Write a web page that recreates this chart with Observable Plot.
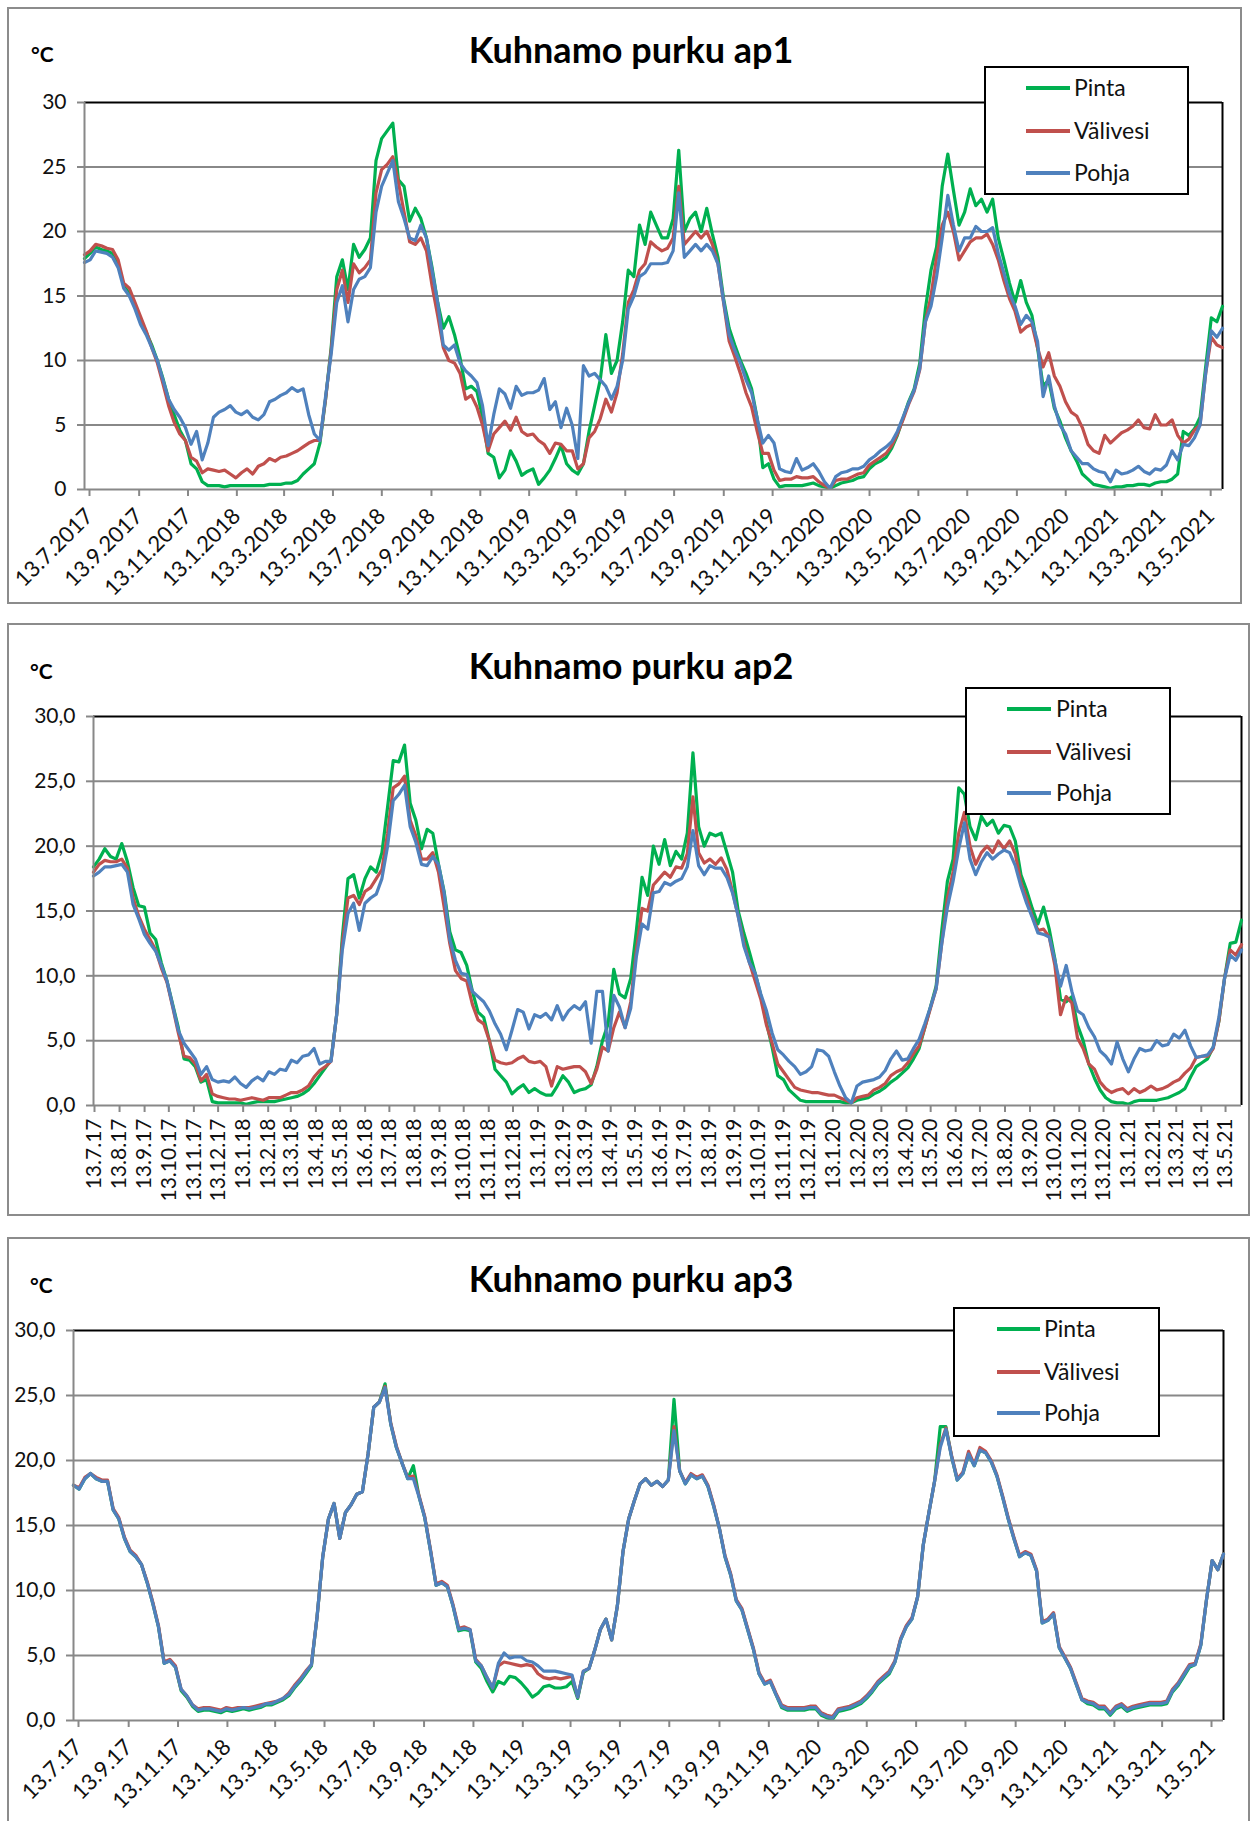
<!DOCTYPE html>
<html><head><meta charset="utf-8">
<script src="https://cdn.jsdelivr.net/npm/d3@7"></script>
<script src="https://cdn.jsdelivr.net/npm/@observablehq/plot@0.6"></script>
<style>
html,body{margin:0;padding:0;background:#fff;}
body{width:1250px;height:1821px;overflow:hidden;position:relative;font-family:Lato,"Open Sans",sans-serif;}
svg.chart{position:absolute;left:0;}
</style></head><body>
<script>
// ---------------- data ----------------
const sampleStart = "2017-07-13";   // first sample, samples are weekly
const sampleStepDays = 7;
const seriesNames = ["Pinta", "Välivesi", "Pohja"];
const seriesColors = ["#00B050", "#C0504D", "#4F81BD"];
const yTicks = [0, 5, 10, 15, 20, 25, 30];
const xDomainLabels = ["13.7.2017", "3.6.2021"];

const ap1Pinta = [17.9,18.3,18.8,18.6,18.5,18.3,17.5,15.8,15.2,14.2,
13.0,12.2,11.2,10.0,8.6,7.0,5.8,4.6,3.8,2.0,
1.6,0.6,0.3,0.3,0.3,0.2,0.3,0.3,0.3,0.3,
0.3,0.3,0.3,0.4,0.4,0.4,0.5,0.5,0.7,1.2,
1.6,2.0,3.6,7.0,11.0,16.5,17.8,15.5,19.0,18.0,
18.6,19.5,25.5,27.2,27.8,28.4,24.0,23.5,20.8,21.8,
21.0,19.5,17.2,14.5,12.5,13.4,12.0,10.2,7.8,8.0,
7.6,5.6,2.8,2.5,0.9,1.5,3.0,2.2,1.1,1.4,
1.6,0.4,0.9,1.5,2.4,3.4,2.0,1.5,1.2,2.0,
4.5,6.5,8.5,12.0,9.0,10.0,13.0,17.0,16.5,20.5,
19.0,21.5,20.5,19.5,19.5,21.0,26.3,20.0,21.0,21.5,
20.0,21.8,19.8,18.0,14.8,12.5,11.2,10.0,9.0,7.8,
5.5,1.7,2.0,0.8,0.2,0.3,0.3,0.3,0.3,0.4,
0.5,0.3,0.2,0.1,0.3,0.5,0.6,0.7,0.9,1.0,
1.6,2.0,2.2,2.5,3.2,4.2,5.5,6.8,7.8,9.8,
14.0,17.0,18.8,23.5,26.0,23.2,20.5,21.5,23.3,22.0,
22.5,21.5,22.5,19.5,17.8,16.0,14.5,16.2,14.5,13.5,
11.0,8.0,8.5,6.3,5.3,4.0,3.0,2.2,1.2,0.8,
0.4,0.3,0.2,0.1,0.2,0.2,0.3,0.3,0.4,0.4,
0.3,0.5,0.6,0.6,0.8,1.2,4.5,4.2,4.7,5.6,
9.5,13.3,13.0,14.2];
const ap1Valivesi = [18.2,18.5,19.0,18.9,18.7,18.6,17.8,16.0,15.6,14.5,
13.4,12.3,11.0,9.8,8.2,6.5,5.2,4.3,3.8,2.5,
2.2,1.3,1.6,1.5,1.4,1.5,1.2,0.9,1.3,1.6,
1.2,1.8,2.0,2.4,2.2,2.5,2.6,2.8,3.0,3.3,
3.6,3.8,3.8,7.0,10.8,15.5,17.0,14.5,17.5,16.8,
17.2,17.8,23.0,24.8,25.2,25.8,23.8,21.5,19.2,19.0,
19.5,18.5,15.8,13.5,11.0,10.0,9.8,9.0,7.0,7.3,
6.4,5.0,3.0,4.3,4.8,5.3,4.6,5.6,4.5,4.2,
4.3,3.8,3.5,2.8,3.6,3.5,3.0,3.0,1.6,2.0,
4.0,4.5,5.5,7.0,6.0,7.5,10.5,14.5,15.5,17.0,
17.5,19.2,18.8,18.5,18.7,19.5,23.5,19.0,19.5,20.0,
19.5,20.0,19.0,17.5,14.5,11.5,10.3,9.0,7.5,6.4,
4.5,2.8,2.8,1.5,0.7,0.8,0.8,1.0,0.9,0.9,
1.0,0.6,0.3,0.1,0.7,0.8,0.8,1.0,1.2,1.3,
1.9,2.2,2.5,2.8,3.4,4.3,5.4,6.6,7.6,9.3,
13.0,15.0,18.0,20.5,21.5,20.0,17.8,18.5,19.2,19.5,
19.5,19.8,19.0,17.8,16.2,14.8,13.8,12.2,12.6,12.8,
11.0,9.5,10.6,8.8,8.0,6.8,6.0,5.7,4.8,3.5,
3.0,2.8,4.2,3.6,4.0,4.4,4.6,4.9,5.4,4.8,
4.7,5.8,5.0,5.0,5.4,4.2,3.6,3.9,4.6,5.0,
9.0,11.8,11.2,11.0];
const ap1Pohja = [17.6,17.8,18.5,18.4,18.3,18.0,17.2,15.6,15.0,14.0,
12.8,12.0,11.0,10.0,8.5,7.0,6.2,5.6,4.8,3.5,
4.5,2.3,3.6,5.6,6.0,6.2,6.5,6.0,5.8,6.1,
5.6,5.4,5.8,6.8,7.0,7.3,7.5,7.9,7.6,7.8,
5.8,4.3,3.8,7.2,10.5,14.5,15.8,13.0,15.5,16.3,
16.5,17.2,21.5,23.5,24.5,25.5,22.3,21.0,19.5,19.3,
20.5,19.5,17.0,14.5,11.2,10.8,11.2,9.8,9.2,8.8,
8.3,6.5,3.4,5.8,7.8,7.4,6.3,8.0,7.3,7.5,
7.5,7.7,8.6,6.2,6.8,4.8,6.3,5.0,2.4,9.6,
8.8,9.0,8.5,8.0,7.0,8.0,10.0,14.0,15.0,16.5,
16.8,17.5,17.5,17.5,17.6,18.5,23.0,18.0,18.5,19.0,
18.5,19.0,18.5,17.5,14.6,12.0,10.8,9.8,8.5,7.5,
5.5,3.6,4.2,3.6,1.6,1.4,1.3,2.4,1.5,1.7,
2.0,1.4,0.6,0.1,1.0,1.3,1.4,1.6,1.6,1.8,
2.3,2.6,3.0,3.3,3.7,4.5,5.6,6.7,7.7,9.4,
13.0,14.2,16.5,19.5,22.8,20.5,18.5,19.5,19.5,20.4,
20.0,20.0,20.3,18.3,16.8,15.2,14.2,12.8,13.5,13.0,
11.5,7.2,8.8,6.5,5.0,4.3,3.0,2.5,2.0,2.0,
1.6,1.4,1.3,0.6,1.5,1.2,1.3,1.5,1.8,1.4,
1.2,1.6,1.5,1.9,3.0,2.3,3.5,3.4,4.0,5.0,
9.0,12.3,11.8,12.5];

const ap2Pinta = [18.4,19.0,19.8,19.2,19.0,20.2,18.8,16.8,15.4,15.3,
13.3,12.8,11.0,9.6,7.8,6.0,3.6,3.5,3.0,1.8,
2.0,0.3,0.2,0.2,0.2,0.2,0.2,0.1,0.2,0.3,
0.3,0.3,0.3,0.4,0.5,0.6,0.7,0.9,1.2,1.7,
2.3,2.9,3.5,7.0,13.0,17.5,17.8,16.0,17.5,18.4,
18.0,19.5,23.0,26.6,26.5,27.8,23.3,22.0,19.8,21.3,
21.0,18.6,16.5,13.4,12.0,11.8,10.8,8.8,7.2,6.8,
5.0,2.8,2.3,1.8,0.9,1.3,1.6,1.0,1.3,1.0,
0.8,0.8,1.5,2.3,1.8,1.0,1.2,1.3,1.6,3.0,
5.0,6.3,10.5,8.6,8.3,9.8,13.5,17.6,16.2,20.0,
18.6,20.5,18.5,19.6,19.0,21.0,27.2,21.5,20.0,21.0,
20.8,21.0,19.5,18.0,15.0,13.3,11.8,10.2,8.5,6.4,
4.5,2.3,2.0,1.2,0.8,0.4,0.3,0.3,0.3,0.3,
0.3,0.3,0.3,0.2,0.2,0.4,0.5,0.6,0.9,1.1,
1.4,1.8,2.1,2.5,2.9,3.6,4.4,6.0,7.6,9.2,
13.5,17.3,19.0,24.5,24.0,21.5,20.5,22.3,21.6,22.0,
21.0,21.6,21.5,20.4,17.8,16.6,15.2,14.0,15.3,13.6,
11.3,8.2,8.0,8.4,6.2,5.0,3.2,2.1,1.2,0.6,
0.3,0.2,0.2,0.1,0.3,0.4,0.4,0.4,0.4,0.5,
0.6,0.8,1.0,1.3,2.2,3.0,3.3,3.6,4.5,6.5,
9.8,12.5,12.6,14.3];
const ap2Valivesi = [18.0,18.6,18.9,18.8,18.8,19.0,18.3,16.0,14.6,13.6,
12.8,12.0,10.6,9.5,7.6,5.6,3.8,3.7,3.2,1.9,
2.4,0.9,0.7,0.6,0.5,0.5,0.4,0.5,0.6,0.5,
0.4,0.6,0.6,0.6,0.8,1.0,1.0,1.2,1.5,2.2,
2.7,3.0,3.4,7.0,12.5,16.0,16.2,15.5,16.5,16.8,
17.5,18.2,21.0,24.5,24.8,25.4,22.0,20.8,19.0,19.0,
19.5,18.0,15.3,12.5,10.4,9.8,9.6,7.8,6.6,6.3,
5.0,3.5,3.3,3.2,3.3,3.6,3.8,3.4,3.3,3.4,
3.0,1.5,3.0,2.8,2.9,3.0,3.0,2.6,1.7,2.8,
4.5,4.2,6.0,7.2,6.0,8.0,12.0,15.2,15.0,17.0,
17.5,18.0,17.6,18.4,18.3,19.4,23.8,19.5,18.7,19.0,
18.6,19.1,18.2,16.5,14.6,12.6,11.0,9.6,8.2,6.2,
4.8,3.2,2.6,2.0,1.4,1.2,1.1,1.0,1.0,0.9,
0.8,0.8,0.6,0.4,0.2,0.6,0.7,0.8,1.2,1.4,
1.7,2.3,2.6,2.8,3.3,4.0,4.6,6.0,7.5,9.0,
12.5,16.0,18.0,21.0,22.6,20.0,18.6,19.5,20.0,19.5,
20.4,19.8,20.4,19.4,17.2,16.0,14.6,13.5,13.6,13.0,
10.8,7.0,8.4,7.9,5.2,4.4,3.2,2.8,1.8,1.3,
1.0,1.2,1.3,0.9,1.3,1.0,1.2,1.5,1.2,1.3,
1.5,1.8,2.0,2.5,2.9,3.7,3.8,3.8,4.4,6.5,
9.8,12.0,11.6,12.4];
const ap2Pohja = [17.7,18.0,18.4,18.4,18.5,18.6,18.0,15.5,14.4,13.2,
12.5,11.9,10.8,9.6,7.7,5.8,4.8,4.2,3.6,2.4,
3.0,2.0,1.8,1.9,1.8,2.2,1.7,1.4,1.9,2.2,
1.9,2.6,2.4,2.8,2.7,3.5,3.3,3.8,3.9,4.4,
3.2,3.4,3.4,7.0,12.0,14.8,15.6,13.5,15.6,16.0,
16.3,17.5,20.0,23.5,24.0,24.7,21.5,20.3,18.6,18.5,
19.2,18.6,16.4,12.8,11.2,10.2,10.1,8.8,8.4,8.0,
7.3,6.3,5.5,4.3,5.8,7.4,7.2,5.9,7.0,6.8,
7.1,6.6,7.7,6.6,7.3,7.7,7.4,8.0,4.8,8.8,
8.8,4.2,8.5,7.6,6.0,7.5,11.5,14.0,13.6,16.4,
16.5,17.2,17.0,17.3,17.5,18.4,21.2,18.5,17.8,18.5,
18.3,18.3,17.6,16.4,14.6,12.3,11.0,10.2,8.6,7.3,
5.6,4.3,3.9,3.4,3.0,2.4,2.6,3.0,4.3,4.2,
3.8,2.6,1.5,0.6,0.2,1.5,1.8,1.9,2.0,2.2,
2.7,3.6,4.2,3.5,3.6,4.4,5.1,6.3,7.6,9.0,
12.5,15.3,17.3,19.8,21.8,19.0,17.8,18.8,19.5,19.0,
19.4,19.7,19.5,18.5,16.9,15.6,14.5,13.3,13.2,13.0,
11.2,9.2,10.8,8.8,7.3,7.0,6.0,5.3,4.2,3.8,
3.2,4.9,3.6,2.6,3.6,4.4,4.2,4.3,5.0,4.6,
4.7,5.5,5.2,5.8,4.6,3.7,3.8,3.9,4.5,6.8,
9.8,11.6,11.2,12.0];

const ap3Pinta = [18.1,17.8,18.6,19.0,18.6,18.4,18.4,16.2,15.5,14.0,
13.0,12.6,12.0,10.6,9.0,7.2,4.4,4.6,4.1,2.3,
1.8,1.1,0.7,0.8,0.8,0.7,0.6,0.8,0.7,0.8,
0.9,0.8,0.9,1.0,1.2,1.2,1.4,1.6,1.9,2.5,
3.0,3.6,4.2,8.0,12.6,15.5,16.7,14.0,16.0,16.6,
17.4,17.6,20.5,24.1,24.5,25.9,22.8,21.0,19.8,18.6,
19.6,17.2,15.6,13.1,10.4,10.6,10.3,8.8,6.9,7.0,
6.9,4.5,4.0,3.0,2.2,3.0,2.8,3.4,3.3,2.9,
2.4,1.8,2.1,2.6,2.7,2.5,2.5,2.6,3.0,1.7,
3.7,4.0,5.4,7.0,7.8,6.2,8.8,13.0,15.5,16.9,
18.2,18.6,18.1,18.4,18.0,18.5,24.7,19.2,18.2,18.9,
18.6,18.8,18.0,16.5,14.8,12.6,11.2,9.2,8.5,7.0,
5.5,3.6,2.8,3.0,2.0,1.0,0.8,0.8,0.8,0.8,
0.9,0.9,0.4,0.2,0.1,0.7,0.8,0.9,1.1,1.3,
1.7,2.2,2.8,3.2,3.6,4.5,6.2,7.2,7.8,9.5,
13.5,16.0,18.4,22.6,22.6,20.3,18.5,19.0,20.5,19.6,
20.8,20.6,19.9,18.8,17.2,15.5,14.0,12.6,12.9,12.7,
11.5,7.5,7.7,8.2,5.6,4.8,4.0,2.8,1.6,1.3,
1.2,0.9,0.9,0.4,0.9,1.1,0.7,0.9,1.0,1.1,
1.2,1.2,1.2,1.3,2.2,2.7,3.4,4.1,4.3,5.8,
9.3,12.3,11.6,12.8];
const ap3Valivesi = [18.1,17.9,18.7,19.0,18.7,18.5,18.5,16.3,15.6,14.1,
13.1,12.7,12.0,10.7,9.1,7.3,4.5,4.7,4.2,2.4,
1.9,1.2,0.9,1.0,1.0,0.9,0.8,1.0,0.9,1.0,
1.0,1.0,1.1,1.2,1.3,1.4,1.5,1.7,2.1,2.7,
3.2,3.8,4.3,8.0,12.6,15.5,16.7,14.0,16.0,16.6,
17.4,17.6,20.5,24.1,24.5,25.7,22.9,21.1,19.8,18.7,
18.8,17.3,15.7,13.2,10.5,10.7,10.4,8.9,7.1,7.2,
7.0,4.7,4.2,3.3,2.5,4.2,4.5,4.4,4.3,4.2,
4.3,4.2,3.6,3.3,3.2,3.3,3.2,3.3,3.4,1.8,
3.8,4.0,5.4,7.0,7.8,6.2,8.8,13.0,15.5,16.9,
18.2,18.6,18.1,18.4,18.0,18.5,22.6,19.2,18.3,19.0,
18.7,18.9,18.1,16.6,14.8,12.7,11.3,9.3,8.6,7.1,
5.6,3.7,2.9,3.1,2.1,1.2,1.0,1.0,1.0,1.0,
1.1,1.1,0.6,0.4,0.3,0.9,1.0,1.1,1.3,1.5,
1.9,2.4,3.0,3.4,3.8,4.6,6.3,7.3,7.9,9.5,
13.5,16.0,18.4,21.2,22.5,20.4,18.6,19.1,20.7,19.7,
21.0,20.7,20.0,18.9,17.3,15.6,14.1,12.7,13.0,12.8,
11.6,7.6,7.8,8.3,5.7,4.9,4.1,2.9,1.7,1.5,
1.4,1.1,1.1,0.6,1.1,1.3,0.9,1.1,1.2,1.3,
1.4,1.4,1.4,1.5,2.4,2.9,3.6,4.3,4.4,5.9,
9.3,12.3,11.6,12.8];
const ap3Pohja = [18.1,17.8,18.6,19.0,18.6,18.4,18.4,16.2,15.5,14.0,
13.0,12.6,12.0,10.6,9.0,7.2,4.4,4.6,4.1,2.4,
1.9,1.2,0.8,0.9,0.9,0.8,0.7,0.9,0.8,0.9,
1.0,0.9,1.0,1.1,1.3,1.3,1.5,1.7,2.0,2.6,
3.1,3.7,4.3,8.0,12.6,15.5,16.7,14.0,16.0,16.6,
17.4,17.6,20.5,24.1,24.5,25.6,22.8,21.0,19.8,18.6,
18.6,17.2,15.6,13.1,10.4,10.6,10.3,8.8,7.0,7.1,
7.0,4.6,4.2,3.3,2.5,4.4,5.2,4.8,4.9,4.9,
4.6,4.5,4.2,3.8,3.8,3.8,3.7,3.6,3.5,1.8,
3.8,4.0,5.4,7.0,7.8,6.2,8.8,13.0,15.5,16.9,
18.2,18.6,18.1,18.4,18.0,18.5,22.3,19.2,18.2,18.9,
18.6,18.8,18.0,16.5,14.8,12.6,11.2,9.2,8.5,7.0,
5.5,3.6,2.8,3.0,2.0,1.1,0.9,0.9,0.9,0.9,
1.0,1.0,0.5,0.3,0.2,0.8,0.9,1.0,1.2,1.4,
1.8,2.3,2.9,3.3,3.7,4.5,6.2,7.2,7.8,9.5,
13.5,16.0,18.4,21.0,22.4,20.3,18.5,19.0,20.5,19.6,
20.8,20.6,19.9,18.8,17.2,15.5,14.0,12.6,12.9,12.7,
11.5,7.5,7.7,8.2,5.6,4.8,4.0,2.8,1.6,1.4,
1.3,1.0,1.0,0.5,1.0,1.2,0.8,1.0,1.1,1.2,
1.3,1.3,1.3,1.4,2.3,2.8,3.5,4.2,4.3,5.8,
9.3,12.3,11.6,12.8];

const ap1TickLabels = ["13.7.2017","13.9.2017","13.11.2017","13.1.2018","13.3.2018","13.5.2018","13.7.2018","13.9.2018","13.11.2018","13.1.2019","13.3.2019","13.5.2019","13.7.2019","13.9.2019","13.11.2019","13.1.2020","13.3.2020","13.5.2020","13.7.2020","13.9.2020","13.11.2020","13.1.2021","13.3.2021","13.5.2021"];
const ap2TickLabels = ["13.7.17","13.8.17","13.9.17","13.10.17","13.11.17","13.12.17","13.1.18","13.2.18","13.3.18","13.4.18","13.5.18","13.6.18","13.7.18","13.8.18","13.9.18","13.10.18","13.11.18","13.12.18","13.1.19","13.2.19","13.3.19","13.4.19","13.5.19","13.6.19","13.7.19","13.8.19","13.9.19","13.10.19","13.11.19","13.12.19","13.1.20","13.2.20","13.3.20","13.4.20","13.5.20","13.6.20","13.7.20","13.8.20","13.9.20","13.10.20","13.11.20","13.12.20","13.1.21","13.2.21","13.3.21","13.4.21","13.5.21"];
const ap3TickLabels = ["13.7.17","13.9.17","13.11.17","13.1.18","13.3.18","13.5.18","13.7.18","13.9.18","13.11.18","13.1.19","13.3.19","13.5.19","13.7.19","13.9.19","13.11.19","13.1.20","13.3.20","13.5.20","13.7.20","13.9.20","13.11.20","13.1.21","13.3.21","13.5.21"];

const titles = ["Kuhnamo purku ap1", "Kuhnamo purku ap2", "Kuhnamo purku ap3"];
const unitLabel = "°C";

// ---------------- helpers ----------------
function parseLabel(s) {
  const [d, m, y] = s.split(".").map(Number);
  return new Date(Date.UTC(y < 100 ? 2000 + y : y, m - 1, d));
}
const t0 = new Date(sampleStart + "T00:00:00Z").getTime();
function sampleDate(k) { return new Date(t0 + k * sampleStepDays * 864e5); }
const xDomain = xDomainLabels.map(parseLabel);

const panels = [
  {series: [ap1Pinta, ap1Valivesi, ap1Pohja], ticks: ap1TickLabels, top: 0, height: 610,
   mt: 102, mb: 121, ml: 84, mr: 28, rot: -45, xFont: 22, xPad: 16, xDx: 5, yFmt: d => String(d),
   box: [8, 8, 1233, 595], titleY: 63, unitX: 31, unitY: 62,
   legend: {x: 985, y: 67, w: 203, h: 127, lx0: 1026, lx1: 1070, tx: 1074, rows: [88, 131, 173]}},
  {series: [ap2Pinta, ap2Valivesi, ap2Pohja], ticks: ap2TickLabels, top: 615, height: 610,
   mt: 101, mb: 120, ml: 93, mr: 9, rot: -90, xFont: 21, xPad: 6, xDx: 1, yFmt: d => d.toFixed(1).replace(".", ","),
   box: [8, 624, 1241, 591], titleY: 679, unitX: 30, unitY: 679,
   legend: {x: 966, y: 688, w: 204, h: 126, lx0: 1007, lx1: 1051, tx: 1056, rows: [709, 752, 793]}},
  {series: [ap3Pinta, ap3Valivesi, ap3Pohja], ticks: ap3TickLabels, top: 1230, height: 591,
   mt: 100, mb: 101, ml: 73, mr: 27, rot: -45, xFont: 22, xPad: 16, xDx: 5, yFmt: d => d.toFixed(1).replace(".", ","),
   box: [8, 1238, 1241, 700], titleY: 1292, unitX: 30, unitY: 1293,
   legend: {x: 954, y: 1308, w: 205, h: 128, lx0: 997, lx1: 1040, tx: 1044, rows: [1329, 1372, 1413]}}
];

const gridGray = "#888888";
const textColor = "#111111";

panels.forEach(p => {
  const rows = [];
  p.series.forEach((vals, si) => vals.forEach((v, k) => rows.push({date: sampleDate(k), value: v, series: seriesNames[si]})));
  const tickDates = p.ticks.map(parseLabel);
  const labelByTime = new Map(tickDates.map((d, i) => [+d, p.ticks[i]]));
  const chart = Plot.plot({
    width: 1250, height: p.height,
    marginLeft: p.ml, marginRight: p.mr, marginTop: p.mt, marginBottom: p.mb,
    style: {fontFamily: "Lato, sans-serif", fontSize: "20px", color: textColor, background: "transparent", overflow: "visible"},
    x: {type: "utc", domain: xDomain, label: null},
    y: {domain: [0, 30], label: null},
    color: {domain: seriesNames, range: seriesColors},
    marks: [
      Plot.ruleY([5, 10, 15, 20, 25], {stroke: gridGray, strokeWidth: 2}),
      Plot.ruleY([30], {stroke: "#000", strokeWidth: 2}),
      Plot.ruleX([xDomain[1]], {stroke: "#000", strokeWidth: 2}),
      Plot.line(rows, {x: "date", y: "value", z: "series", stroke: "series", strokeWidth: 3.2, strokeLinejoin: "round", strokeLinecap: "round"}),
      Plot.ruleY([0], {stroke: gridGray, strokeWidth: 2}),
      Plot.ruleX([xDomain[0]], {stroke: gridGray, strokeWidth: 2}),
      Plot.axisY({ticks: yTicks, tickFormat: p.yFmt, tickSize: 7, tickPadding: 11, stroke: gridGray, strokeWidth: 2, fill: textColor, fontSize: 21, label: null}),
      Plot.axisX({ticks: tickDates, tickFormat: d => labelByTime.get(+d), tickRotate: p.rot, tickSize: 7, tickPadding: p.xPad,
                  stroke: gridGray, strokeWidth: 2, fill: textColor, fontSize: p.xFont, dx: p.xDx, label: null})
    ]
  });
  chart.classList.add("chart");
  chart.style.top = p.top + "px";
  document.body.appendChild(chart);
});

// overlay: frames, titles, units, legends
const ov = d3.select("body").append("svg")
  .attr("width", 1250).attr("height", 1821)
  .style("position", "absolute").style("left", 0).style("top", 0)
  .style("font-family", "Lato, sans-serif");

panels.forEach((p, i) => {
  const [bx, by, bw, bh] = p.box;
  ov.append("rect").attr("x", bx).attr("y", by).attr("width", bw).attr("height", bh)
    .attr("fill", "none").attr("stroke", "#8c8c8c").attr("stroke-width", 2);
  ov.append("text").attr("x", 631).attr("y", p.titleY).attr("text-anchor", "middle")
    .attr("font-size", 36).attr("font-weight", 700).attr("fill", "#000").text(titles[i]);
  ov.append("text").attr("x", p.unitX).attr("y", p.unitY)
    .attr("font-size", 21).attr("font-weight", 700).attr("fill", "#000").text(unitLabel);
  const L = p.legend;
  ov.append("rect").attr("x", L.x).attr("y", L.y).attr("width", L.w).attr("height", L.h)
    .attr("fill", "#fff").attr("stroke", "#000").attr("stroke-width", 2);
  seriesNames.forEach((name, si) => {
    ov.append("line").attr("x1", L.lx0).attr("x2", L.lx1).attr("y1", L.rows[si]).attr("y2", L.rows[si])
      .attr("stroke", seriesColors[si]).attr("stroke-width", 4);
    ov.append("text").attr("x", L.tx).attr("y", L.rows[si] + 8)
      .attr("font-size", 23).attr("fill", textColor).text(name);
  });
});
</script>
</body></html>
